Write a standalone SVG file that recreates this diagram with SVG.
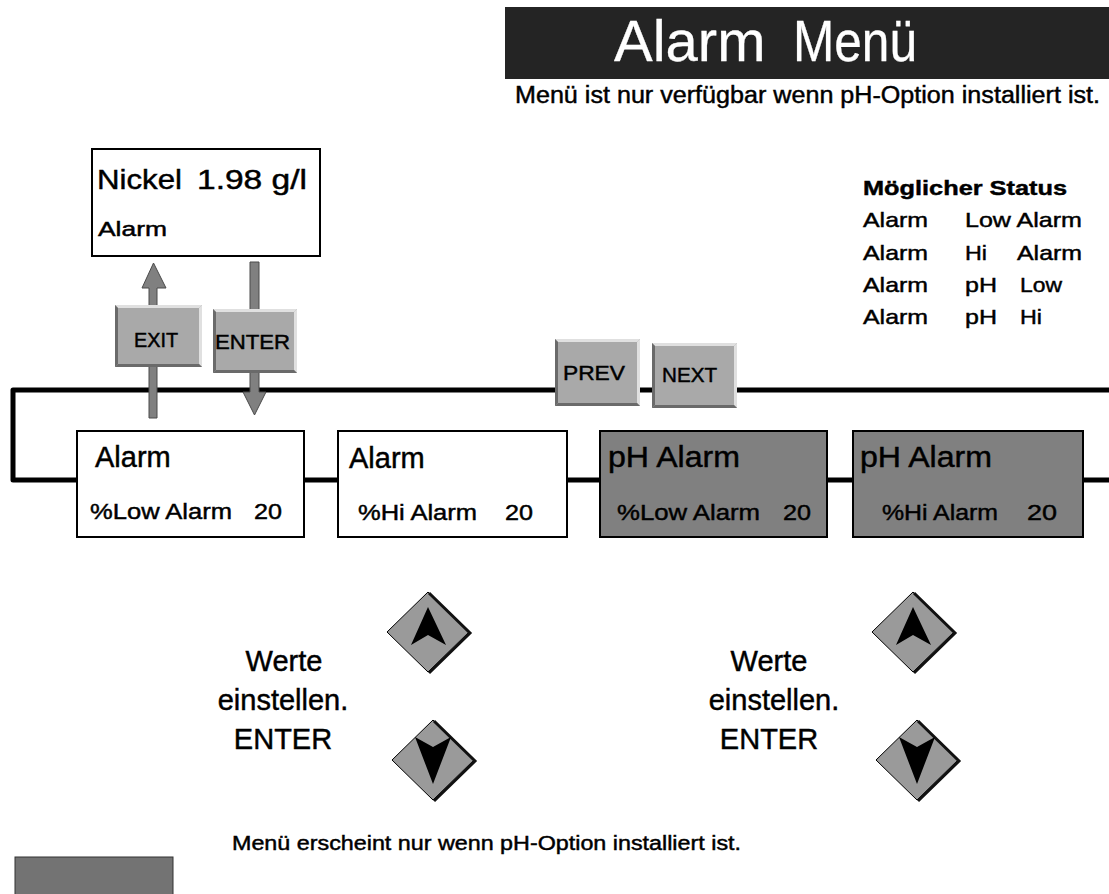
<svg xmlns="http://www.w3.org/2000/svg" width="1109" height="894" viewBox="0 0 1109 894">
<style>
text{font-family:"Liberation Sans",Arial,Helvetica,sans-serif;fill:#000;stroke:#000;stroke-width:0.45}
.box{fill:#fff;stroke:#000;stroke-width:2}
.gbox{fill:#808080;stroke:#000;stroke-width:2}
.t1{font-size:29px}
.t2{font-size:22px}
.btn{fill:#a9a9a9}
.bl{fill:#e0e0e0}
.bd{fill:#6a6a6a}
.bt{font-size:20px}
.dia{fill:#9a9a9a;stroke:#000;stroke-width:1}
.dsh{fill:none;stroke:#111;stroke-width:3}
.big{font-size:29px;text-anchor:middle}
.st{font-size:21px}
.shaft{fill:#808080;stroke:#4a4a4a;stroke-width:1}
.wt{fill:#fff;stroke:#fff;stroke-width:0.3}
</style>
<g id="title">
<rect x="505" y="7" width="604" height="72" fill="#242424"/>
<text class="wt" x="614" y="61" font-size="58">Alarm</text>
<text class="wt" x="793" y="61" font-size="58" textLength="124" lengthAdjust="spacingAndGlyphs">Menü</text>
<text x="515" y="103" font-size="23" textLength="585" lengthAdjust="spacingAndGlyphs">Menü ist nur verfügbar wenn pH-Option installiert ist.</text>
</g>
<g id="connectors">
<path d="M1109 390 H13 V480 H1109" fill="none" stroke="#000" stroke-width="5" stroke-linejoin="round" stroke-linecap="round"/>
<path class="shaft" d="M149 418 V288 H142 L153.5 263 L166 288 H157 V418 Z"/>
<path class="shaft" d="M250 262 H259 V392 H266 L254.5 415 L243 392 H250 Z"/>
</g>
<g id="nickel">
<rect class="box" x="92" y="149" width="228" height="107"/>
<text x="97" y="189" font-size="27" textLength="85" lengthAdjust="spacingAndGlyphs">Nickel</text>
<text x="197" y="189" font-size="27" textLength="110" lengthAdjust="spacingAndGlyphs">1.98 g/l</text>
<text x="98" y="236" font-size="20" textLength="69" lengthAdjust="spacingAndGlyphs">Alarm</text>
</g>
<g id="btn-exit">
<rect class="btn" x="115" y="305" width="87" height="62"/>
<polygon class="bl" points="115,305 202,305 199,308 118,308"/>
<polygon class="bl" points="202,305 202,367 199,364 199,308"/>
<polygon class="bd" points="115,305 118,308 118,364 115,367"/>
<polygon class="bd" points="115,367 202,367 199,364 118,364"/>
<text class="bt" x="134" y="347" textLength="44" lengthAdjust="spacingAndGlyphs">EXIT</text>
</g>
<g id="btn-enter">
<rect class="btn" x="213" y="309" width="84" height="64"/>
<polygon class="bl" points="213,309 297,309 294,312 216,312"/>
<polygon class="bl" points="297,309 297,373 294,370 294,312"/>
<polygon class="bd" points="213,309 216,312 216,370 213,373"/>
<polygon class="bd" points="213,373 297,373 294,370 216,370"/>
<text class="bt" x="215" y="349" textLength="75" lengthAdjust="spacingAndGlyphs">ENTER</text>
</g>
<g id="btn-prev">
<rect class="btn" x="555" y="339" width="85" height="67"/>
<polygon class="bl" points="555,339 640,339 637,342 558,342"/>
<polygon class="bl" points="640,339 640,406 637,403 637,342"/>
<polygon class="bd" points="555,339 558,342 558,403 555,406"/>
<polygon class="bd" points="555,406 640,406 637,403 558,403"/>
<text class="bt" x="563" y="380" textLength="62" lengthAdjust="spacingAndGlyphs">PREV</text>
</g>
<g id="btn-next">
<rect class="btn" x="652" y="343" width="85" height="65"/>
<polygon class="bl" points="652,343 737,343 734,346 655,346"/>
<polygon class="bl" points="737,343 737,408 734,405 734,346"/>
<polygon class="bd" points="652,343 655,346 655,405 652,408"/>
<polygon class="bd" points="652,408 737,408 734,405 655,405"/>
<text class="bt" x="662" y="382" textLength="55" lengthAdjust="spacingAndGlyphs">NEXT</text>
</g>
<g id="status">
<text class="st" x="863" y="195" font-weight="bold" textLength="204" lengthAdjust="spacingAndGlyphs">Möglicher Status</text>
<text class="st" x="863" y="227" textLength="65" lengthAdjust="spacingAndGlyphs">Alarm</text>
<text class="st" x="965" y="227" textLength="117" lengthAdjust="spacingAndGlyphs">Low Alarm</text>
<text class="st" x="863" y="260" textLength="65" lengthAdjust="spacingAndGlyphs">Alarm</text>
<text class="st" x="965" y="260" textLength="22" lengthAdjust="spacingAndGlyphs">Hi</text>
<text class="st" x="1017" y="260" textLength="65" lengthAdjust="spacingAndGlyphs">Alarm</text>
<text class="st" x="863" y="292" textLength="65" lengthAdjust="spacingAndGlyphs">Alarm</text>
<text class="st" x="965" y="292" textLength="32" lengthAdjust="spacingAndGlyphs">pH</text>
<text class="st" x="1020" y="292" textLength="42" lengthAdjust="spacingAndGlyphs">Low</text>
<text class="st" x="863" y="324" textLength="65" lengthAdjust="spacingAndGlyphs">Alarm</text>
<text class="st" x="965" y="324" textLength="32" lengthAdjust="spacingAndGlyphs">pH</text>
<text class="st" x="1020" y="324" textLength="22" lengthAdjust="spacingAndGlyphs">Hi</text>
</g>
<g id="box-low">
<rect class="box" x="77" y="431" width="227" height="106"/>
<text class="t1" x="95" y="467">Alarm</text>
<text class="t2" x="90" y="519" textLength="142" lengthAdjust="spacingAndGlyphs">%Low Alarm</text>
<text class="t2" x="254" y="519" textLength="28" lengthAdjust="spacingAndGlyphs">20</text>
</g>
<g id="box-hi">
<rect class="box" x="338" y="431" width="229" height="106"/>
<text class="t1" x="349" y="468">Alarm</text>
<text class="t2" x="358" y="520" textLength="119" lengthAdjust="spacingAndGlyphs">%Hi Alarm</text>
<text class="t2" x="505" y="520" textLength="28" lengthAdjust="spacingAndGlyphs">20</text>
</g>
<g id="box-phlow">
<rect class="gbox" x="600" y="431" width="227" height="106"/>
<text class="t1" x="608" y="467" textLength="132" lengthAdjust="spacingAndGlyphs">pH Alarm</text>
<text class="t2" x="617" y="520" textLength="143" lengthAdjust="spacingAndGlyphs">%Low Alarm</text>
<text class="t2" x="783" y="520" textLength="28" lengthAdjust="spacingAndGlyphs">20</text>
</g>
<g id="box-phhi">
<rect class="gbox" x="853" y="431" width="230" height="106"/>
<text class="t1" x="860" y="467" textLength="132" lengthAdjust="spacingAndGlyphs">pH Alarm</text>
<text class="t2" x="882" y="520" textLength="116" lengthAdjust="spacingAndGlyphs">%Hi Alarm</text>
<text class="t2" x="1027" y="520" textLength="30" lengthAdjust="spacingAndGlyphs">20</text>
</g>
<g id="adjust-left">
<text class="big" x="284" y="671">Werte</text>
<text class="big" x="283" y="710">einstellen.</text>
<text class="big" x="283" y="749">ENTER</text>
<polygon class="dia" points="428,592 469,632 428,672 387,632"/>
<polyline class="dsh" points="429,593 470,633 429,673"/>
<polygon points="428,607 446,645 428,635 411,645"/>
<polygon class="dia" points="433,720 474,760 433,800 392,760"/>
<polyline class="dsh" points="434,721 475,761 434,801"/>
<polygon points="415,737 433,747 451,737 433,784"/>
</g>
<g id="adjust-right">
<text class="big" x="769" y="671">Werte</text>
<text class="big" x="774" y="710">einstellen.</text>
<text class="big" x="769" y="749">ENTER</text>
<polygon class="dia" points="913,592 954,632 913,672 872,632"/>
<polyline class="dsh" points="914,593 955,633 914,673"/>
<polygon points="913,607 931,645 913,635 896,645"/>
<polygon class="dia" points="917,720 958,760 917,800 876,760"/>
<polyline class="dsh" points="918,721 959,761 918,801"/>
<polygon points="899,737 917,747 935,737 917,784"/>
</g>
<g id="legend">
<rect x="15" y="857" width="158" height="40" fill="#737373" stroke="#333" stroke-width="1"/>
<text x="232" y="850" font-size="20" textLength="509" lengthAdjust="spacingAndGlyphs">Menü erscheint nur wenn pH-Option installiert ist.</text>
</g>
</svg>
